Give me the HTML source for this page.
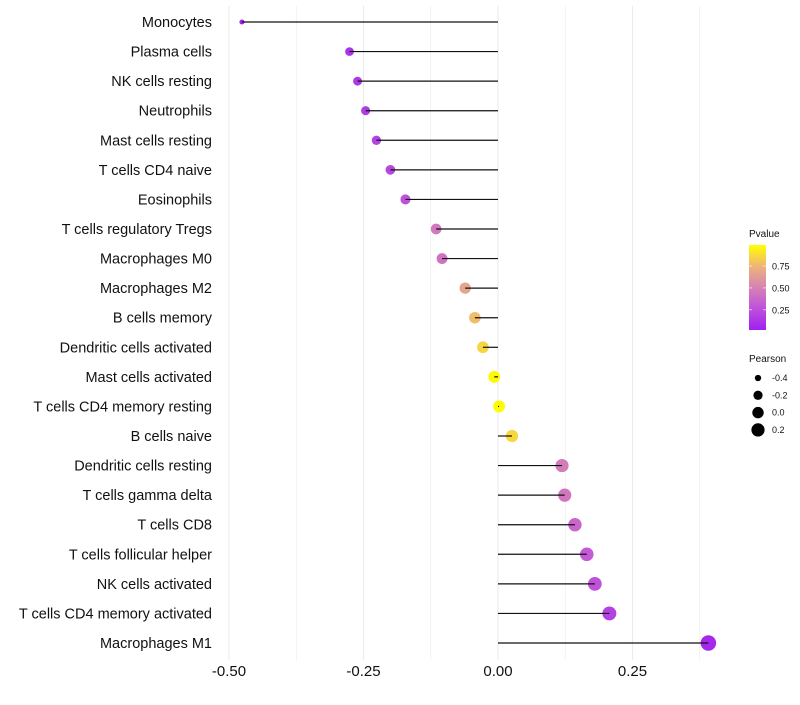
<!DOCTYPE html>
<html><head><meta charset="utf-8"><style>
body{margin:0;background:#fff;}
svg text{font-family:"Liberation Sans",Arial,sans-serif;}
</style></head><body>
<svg id="chart" width="800" height="700" xmlns="http://www.w3.org/2000/svg"></svg>
<script>
const categories=["Monocytes","Plasma cells","NK cells resting","Neutrophils","Mast cells resting","T cells CD4 naive","Eosinophils","T cells regulatory  Tregs ","Macrophages M0","Macrophages M2","B cells memory","Dendritic cells activated","Mast cells activated","T cells CD4 memory resting","B cells naive","Dendritic cells resting","T cells gamma delta","T cells CD8","T cells follicular helper","NK cells activated","T cells CD4 memory activated","Macrophages M1"];
const pearson=[-0.476,-0.276,-0.261,-0.246,-0.226,-0.200,-0.172,-0.115,-0.104,-0.061,-0.043,-0.028,-0.007,0.002,0.026,0.119,0.124,0.143,0.165,0.180,0.207,0.391];
const pvalue=[0.03,0.10,0.12,0.14,0.17,0.20,0.25,0.45,0.42,0.68,0.78,0.86,0.98,0.99,0.87,0.47,0.44,0.36,0.30,0.26,0.17,0.04];
const xTicks=[-0.5,-0.25,0,0.25];
const xTickLabels=["-0.50","-0.25","0.00","0.25"];
const pTicks=[0.25,0.5,0.75];
const sizeLegend=[-0.4,-0.2,0.0,0.2];

const NS="http://www.w3.org/2000/svg";
const svg=document.getElementById('chart');
function el(t,a,p){const e=document.createElementNS(NS,t);for(const k in a)e.setAttribute(k,a[k]);(p||svg).appendChild(e);return e;}
const x=v=>498+v*538;
const y=i=>22+i*(643-22)/21;
const r=v=>Math.sqrt(Math.max(1,36+62*v));
const stops=[[0,[160,32,240]],[0.3,[196,90,214]],[0.5,[214,130,180]],[0.75,[238,180,120]],[1,[255,255,0]]];
function col(p){for(let i=1;i<stops.length;i++){if(p<=stops[i][0]){const a=stops[i-1],b=stops[i];const t=(p-a[0])/(b[0]-a[0]);return 'rgb('+a[1].map((c,j)=>Math.round(c+(b[1][j]-c)*t)).join(',')+')';}}return 'rgb(255,255,0)';}

[-0.5,-0.375,-0.25,-0.125,0,0.125,0.25,0.375].forEach(v=>{
  const g=el('line',{x1:x(v),x2:x(v),y1:6,y2:660,stroke:'#ebebeb','stroke-width':v*8%2===0?1.1:0.6});
  
  
});
xTicks.forEach((v,i)=>{
  const t=el('text',{x:x(v),y:676,'text-anchor':'middle','font-size':15,fill:'#111'});
  t.textContent=xTickLabels[i];
  
  
});
categories.forEach((c,i)=>{
  const t=el('text',{x:212,y:y(i)+5,'text-anchor':'end','font-size':14.5,fill:'#111'});
  t.textContent=c;
  
  
  const d=el('circle',{cx:x(pearson[i]),cy:y(i),r:r(pearson[i]),fill:col(pvalue[i])});
  
  
  const l=el('line',{x1:x(0),x2:x(pearson[i]),y1:y(i),y2:y(i),stroke:'#111','stroke-width':1.2});
  
  
});
const lt=el('text',{x:749,y:237,'font-size':10,fill:'#111'});lt.textContent='Pvalue';


const defs=el('defs',{});const lg=el('linearGradient',{id:'pg',x1:0,y1:1,x2:0,y2:0},defs);
stops.forEach(s=>el('stop',{offset:s[0],'stop-color':'rgb('+s[1].join(',')+')'},lg));
const bar=el('rect',{x:749,y:245,width:17,height:85,fill:'url(#pg)'});


const py=p=>330-(p-0.02)/(0.99-0.02)*85;
pTicks.forEach(p=>{
  el('line',{x1:749,x2:752,y1:py(p),y2:py(p),stroke:'#fff','stroke-width':0.6});
  el('line',{x1:763,x2:766,y1:py(p),y2:py(p),stroke:'#fff','stroke-width':0.6});
  const t=el('text',{x:772,y:py(p)+3.5,'font-size':9,fill:'#111'});t.textContent=p.toFixed(2);
  
  
});
const st=el('text',{x:749,y:362,'font-size':10,fill:'#111'});st.textContent='Pearson';


sizeLegend.forEach((v,i)=>{
  const c=el('circle',{cx:758,cy:378+i*17.3,r:r(v)*0.95,fill:'#000'});
  
  
  const t=el('text',{x:772,y:381+i*17.3,'font-size':9,fill:'#111'});t.textContent=v.toFixed(1);
  
  
});
</script>
</body></html>
